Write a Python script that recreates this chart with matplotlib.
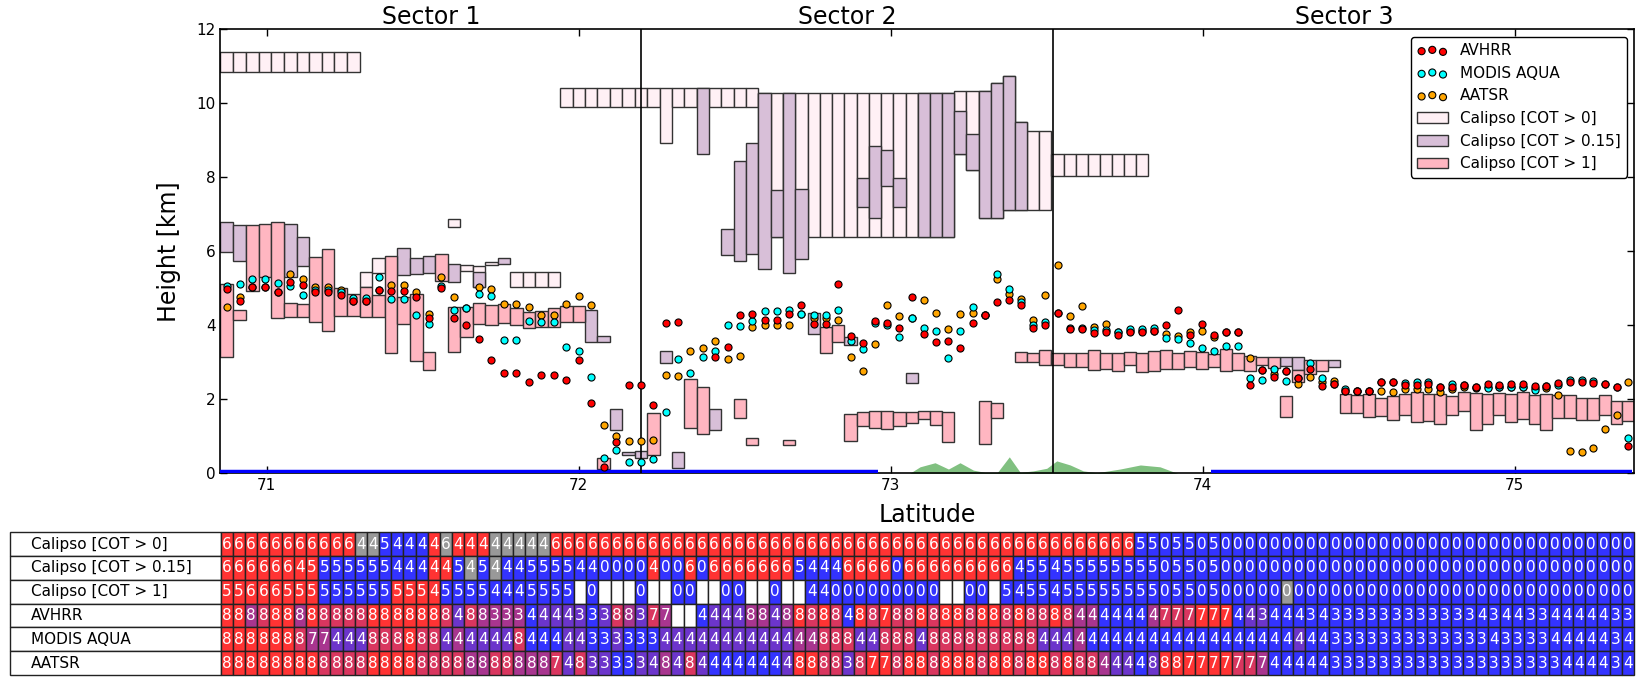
import numpy as np
import matplotlib
matplotlib.use("Agg")
import matplotlib.pyplot as plt
import matplotlib.transforms as mtransforms
from matplotlib.table import Table

nan = np.nan

# latitude of each Calipso column (one per table column)
lat = [70.8723, 70.9130, 70.9536, 70.9942, 71.0348, 71.0754, 71.1159, 71.1564, 71.1969, 71.2373,
       71.2777, 71.3181, 71.3585, 71.3988, 71.4391, 71.4794, 71.5196, 71.5598, 71.6000, 71.6402,
       71.6803, 71.7204, 71.7605, 71.8005, 71.8405, 71.8805, 71.9205, 71.9604, 72.0003, 72.0402,
       72.0800, 72.1199, 72.1597, 72.1994, 72.2392, 72.2789, 72.3185, 72.3582, 72.3978, 72.4374,
       72.4770, 72.5165, 72.5560, 72.5955, 72.6349, 72.6744, 72.7138, 72.7531, 72.7925, 72.8318,
       72.8711, 72.9103, 72.9496, 72.9887, 73.0279, 73.0671, 73.1062, 73.1453, 73.1843, 73.2233,
       73.2623, 73.3013, 73.3403, 73.3792, 73.4181, 73.4569, 73.4958, 73.5346, 73.5733, 73.6121,
       73.6508, 73.6895, 73.7281, 73.7668, 73.8054, 73.8440, 73.8825, 73.9210, 73.9595, 73.9980,
       74.0364, 74.0748, 74.1132, 74.1516, 74.1899, 74.2282, 74.2664, 74.3047, 74.3429, 74.3811,
       74.4192, 74.4573, 74.4954, 74.5335, 74.5715, 74.6095, 74.6475, 74.6855, 74.7234, 74.7613,
       74.7992, 74.8370, 74.8748, 74.9126, 74.9504, 74.9881, 75.0258, 75.0635, 75.1011, 75.1387,
       75.1763, 75.2139, 75.2514, 75.2889, 75.3264, 75.3638]

# cloud top heights [km] of the passive sensors
avhrr = [4.99, 4.67, 5.03, 5.03, 4.90, 5.18, 5.10, 4.91, 4.91, 4.82,
         4.66, 4.66, 4.95, 4.92, 4.92, 4.76, 4.19, 5.02, 4.19, 4.01,
         3.63, 3.08, 2.71, 2.71, 2.46, 2.66, 2.66, 2.52, 3.07, 1.90,
         0.18, 0.84, 2.39, 2.39, 1.85, 4.08, 4.09, nan, nan, 3.14,
         3.41, 4.28, 4.31, 4.14, 4.14, 4.31, 4.55, 4.03, 4.03, 5.11,
         3.72, 3.52, 4.12, 4.08, 3.92, 4.76, 3.77, 3.54, 3.58, 3.38,
         4.06, 4.28, 4.63, 4.68, 4.55, 3.93, 4.01, 4.35, 3.90, 3.90,
         3.80, 3.83, 3.74, 3.83, 3.83, 3.86, 4.01, 4.42, 3.74, 4.04,
         3.74, 3.83, 3.83, 2.39, 2.80, 2.60, 2.77, 2.59, 2.82, 2.36,
         2.42, 2.24, 2.24, 2.24, 2.47, 2.47, 2.39, 2.39, 2.42, 2.34,
         2.34, 2.39, 2.34, 2.41, 2.39, 2.41, 2.41, 2.36, 2.36, 2.45,
         2.47, 2.47, 2.44, 2.41, 2.35, 0.74]
modis = [5.08, 5.11, 5.25, 5.25, 5.14, 5.06, 4.82, 4.95, 4.95, 4.90,
         4.73, 4.73, 5.31, 4.71, 4.71, 4.28, 4.04, 5.08, 4.42, 4.46,
         4.84, 4.80, 3.61, 3.61, 4.12, 4.10, 4.10, 3.42, 3.31, 2.61,
         0.41, 0.64, 0.32, 0.32, 0.39, 1.65, 3.09, 2.71, 3.14, 3.31,
         4.01, 3.99, 4.12, 4.39, 4.39, 4.42, 4.31, 4.28, 4.28, 4.42,
         3.58, 3.36, 4.06, 4.01, 3.68, 4.19, 3.92, 3.85, 3.11, 3.85,
         4.49, 4.28, 5.39, 4.99, 4.64, 4.00, 4.10, 4.35, 3.93, 3.93,
         3.87, 3.87, 3.83, 3.90, 3.90, 3.92, 3.67, 3.64, 3.52, 3.38,
         3.31, 3.45, 3.45, 2.57, 2.53, 2.82, 2.50, 2.59, 2.98, 2.57,
         2.42, 2.28, 2.24, 2.24, 2.47, 2.47, 2.45, 2.46, 2.47, 2.34,
         2.41, 2.39, 2.34, 2.32, 2.35, 2.33, 2.35, 2.26, 2.36, 2.39,
         2.53, 2.53, 2.51, 2.41, 2.35, 0.95]
aatsr = [4.49, 4.78, 5.03, 5.03, 4.90, 5.39, 5.25, 5.03, 5.03, 4.96,
         4.66, 4.66, 4.95, 5.09, 5.09, 4.90, 4.31, 5.30, 4.78, 4.46,
         5.03, 4.99, 4.58, 4.58, 4.50, 4.28, 4.28, 4.58, 4.80, 4.55,
         1.31, 1.01, 0.88, 0.88, 0.90, 2.66, 2.64, 3.31, 3.38, 3.58,
         3.09, 3.17, 3.95, 4.01, 4.01, 4.01, 4.31, 4.19, 4.19, 4.15,
         3.14, 2.77, 3.49, 4.55, 4.26, 4.19, 4.69, 4.33, 3.90, 4.31,
         4.33, 4.28, 5.25, 4.84, 4.71, 4.15, 4.82, 5.63, 4.26, 4.53,
         3.95, 4.04, 3.83, 3.85, 3.85, 3.86, 3.76, 3.72, 3.83, 3.85,
         3.70, 3.83, 3.83, 3.11, 2.80, 2.70, 2.77, 2.42, 2.60, 2.48,
         2.50, 2.24, 2.24, 2.24, 2.23, 2.19, 2.27, 2.27, 2.27, 2.21,
         2.27, 2.33, 2.30, 2.35, 2.35, 2.35, 2.35, 2.30, 2.30, 2.12,
         0.61, 0.59, 0.68, 1.19, 1.58, 2.47]

# Calipso layers: (column, base, top) in km
cot0 = ([(c, 10.85, 11.38) for c in range(0, 11)] +
        [(11, 5.05, 5.44), (12, 5.41, 5.81), (18, 6.65, 6.88), (19, 5.47, 5.63),
         (20, 5.05, 5.62), (21, 5.63, 5.72), (23, 5.05, 5.44), (24, 5.05, 5.44),
         (25, 5.05, 5.44), (26, 5.05, 5.44)] +
        [(c, 9.90, 10.43) for c in range(27, 35)] + [(35, 8.92, 10.43)] +
        [(c, 9.90, 10.43) for c in range(36, 43)] +
        [(c, 6.38, 10.29) for c in range(43, 59)] +
        [(59, 8.63, 10.35), (60, 8.20, 10.35), (61, 6.90, 10.35), (62, 6.90, 10.54),
         (63, 7.11, 10.73), (64, 7.11, 9.51), (65, 7.11, 9.26), (66, 7.11, 9.26)] +
        [(c, 8.04, 8.63) for c in range(67, 75)])
cot015 = [(0, 5.98, 6.79), (1, 5.73, 6.71), (5, 5.30, 6.75), (6, 5.60, 6.38), (14, 5.37, 6.09),
          (15, 5.38, 5.81), (16, 5.41, 5.87), (18, 5.18, 5.65), (20, 5.05, 5.44), (22, 5.65, 5.81),
          (29, 3.54, 4.42), (30, 3.54, 3.72), (31, 1.18, 1.73), (32, 0.50, 0.57), (33, 0.43, 0.61),
          (35, 2.99, 3.31), (36, 0.14, 0.59), (38, 8.63, 10.43), (39, 1.18, 1.73), (40, 5.91, 6.62),
          (41, 5.73, 8.45), (42, 5.93, 8.92), (43, 5.52, 10.29), (44, 6.38, 7.66), (45, 5.41, 10.29),
          (46, 5.79, 7.69), (47, 3.77, 4.35), (50, 3.47, 3.68), (51, 7.21, 7.98), (52, 6.90, 8.86),
          (53, 7.78, 8.73), (54, 7.21, 7.98), (55, 2.44, 2.71), (56, 6.38, 10.29), (57, 6.38, 10.29),
          (58, 6.38, 10.29), (59, 8.63, 9.80), (60, 8.20, 9.18), (61, 6.90, 10.35), (62, 6.90, 10.54),
          (63, 7.11, 10.73), (64, 7.11, 9.51), (86, 2.90, 3.14), (87, 2.80, 3.14), (90, 2.87, 3.08)]
cot1 = [(0, 3.14, 5.11), (1, 4.15, 4.42), (2, 4.92, 6.71), (3, 5.32, 6.75), (4, 4.19, 6.79),
        (5, 4.22, 4.60), (6, 4.22, 4.57), (7, 4.09, 5.84), (8, 3.85, 6.06), (9, 4.26, 5.00),
        (10, 4.26, 4.84), (11, 4.22, 5.05), (12, 4.22, 4.82), (13, 3.25, 5.87), (14, 4.03, 4.78),
        (15, 3.04, 4.84), (16, 2.80, 3.29), (17, 5.20, 5.92), (18, 3.29, 4.51), (19, 3.68, 4.49),
        (20, 4.03, 4.60), (21, 4.01, 4.55), (22, 4.06, 4.57), (23, 4.01, 4.48), (24, 3.92, 4.37),
        (25, 3.97, 4.39), (26, 3.95, 4.46), (27, 4.09, 4.53), (28, 4.09, 4.53), (30, 0.12, 0.41),
        (34, 0.50, 1.63), (37, 1.22, 2.54), (38, 1.06, 2.34), (41, 1.49, 2.00), (42, 0.77, 0.95),
        (45, 0.77, 0.90), (48, 3.25, 3.97), (49, 3.56, 4.00), (50, 0.88, 1.60), (51, 1.28, 1.67),
        (52, 1.22, 1.70), (53, 1.19, 1.70), (54, 1.28, 1.67), (55, 1.36, 1.65), (56, 1.47, 1.69),
        (57, 1.31, 1.69), (58, 0.84, 1.65), (61, 0.79, 1.97), (62, 1.49, 1.90), (64, 3.00, 3.29),
        (65, 3.00, 3.26), (66, 2.93, 3.34), (67, 2.93, 3.26), (68, 2.87, 3.26), (69, 2.87, 3.26),
        (70, 2.80, 3.34), (71, 2.83, 3.26), (72, 2.76, 3.26), (73, 2.93, 3.29), (74, 2.73, 3.26),
        (75, 2.77, 3.31), (76, 2.82, 3.34), (77, 2.82, 3.25), (78, 2.87, 3.31), (79, 2.82, 3.28),
        (80, 2.87, 3.23), (81, 2.77, 3.36), (82, 2.80, 3.25), (83, 2.77, 3.17), (84, 2.93, 3.16),
        (85, 2.84, 3.14), (86, 1.53, 2.09), (87, 2.48, 2.80), (88, 2.68, 3.07), (89, 2.77, 3.08),
        (91, 1.63, 2.14), (92, 1.63, 2.12), (93, 1.53, 2.14), (94, 1.55, 2.03), (95, 1.45, 2.09),
        (96, 1.58, 2.15), (97, 1.38, 2.21), (98, 1.43, 2.15), (99, 1.35, 2.15), (100, 1.58, 2.10),
        (101, 1.69, 2.21), (102, 1.18, 2.17), (103, 1.33, 2.15), (104, 1.58, 2.17), (105, 1.38, 2.15),
        (106, 1.47, 2.21), (107, 1.33, 2.12), (108, 1.18, 2.14), (109, 1.49, 2.12), (110, 1.49, 2.12),
        (111, 1.45, 2.03), (112, 1.45, 2.03), (113, 1.58, 2.12), (114, 1.35, 1.97), (115, 1.42, 1.97)]

# surface: land elevation and open water stretches
land_lat = [73.06, 73.094, 73.142, 73.185, 73.222, 73.265, 73.302, 73.342, 73.38, 73.415,
            73.457, 73.50, 73.532, 73.575, 73.617, 73.66, 73.735, 73.80, 73.863, 73.92]
land_h = [0.0, 0.18, 0.29, 0.12, 0.29, 0.09, 0.03, 0.03, 0.45, 0.03,
          0.07, 0.14, 0.34, 0.23, 0.07, 0.02, 0.12, 0.23, 0.18, 0.0]
sea_segments = [(70.852, 72.958), (74.027, 75.375)]

sector_edges = [70.852, 72.2, 73.521, 75.383]
sector_names = ["Sector 1", "Sector 2", "Sector 3"]

# table: row labels, cell text, cell colour codes
row_names = ["Calipso [COT > 0]", "Calipso [COT > 0.15]", "Calipso [COT > 1]",
             "AVHRR", "MODIS AQUA", "AATSR"]
row_text = [
    "66666666666" + "44" + "5444" + "4" + "6" + "444" + "44444" + "6" * 48 + "5505505" + "0" * 34,
    "66666645" + "555555" + "444" + "44" + "5454" + "44" + "5555" + "44" + "0000" + "4" + "00" + "6" + "0"
    + "6666666" + "5444" + "6666" + "0" + "666666666" + "45545" + "5555555" + "05505" + "0" * 34,
    "55666555" + "555555" + "5554" + "5555" + "4" + "44" + "5555" + " 0   0  00  00  0 " + " 44"
    + "000000000" + "  00 " + "545545" + "5555555" + "05505" + "0" * 34,
    "8" * 19 + "4" + "88" + "333" + "4444" + "333" + "88" + "3" + "77" + "  " + "4444" + "88" + "4" + "8"
    + "8888" + "4" + "88" + "7" + "8" * 15 + "4" * 7 + "7" * 6 + "44" + "3" + "444" + "3" + "4" + "3" * 12
    + "4" + "3" + "44" + "33" + "44444" + "33",
    "8888888" + "77" + "444" + "888888" + "44444" + "48" + "44444" + "333333" + "4" * 11
    + "44888448884888888888444" + "4" * 21 + "3" * 13 + "4" + "3333" + "44444" + "3" + "4",
    "8" * 27 + "7" + "4" + "8" + "33333" + "4" + "8" + "4" + "8" + "4" * 8 + "8888" + "3" + "8" + "77"
    + "8" * 15 + "88" + "4444" + "888" + "7" * 7 + "44444" + "3" * 19 + "4444" + "3" + "4",
]
row_codes = [
    "r" * 11 + "gg" + "bbbb" + "r" + "g" + "rrr" + "ggggg" + "r" * 48 + "b" * 41,
    "r" * 8 + "b" * 9 + "rr" + "bgbg" + "b" * 12 + "r" + "bb" + "r" + "b" + "r" * 7 + "bbbb" + "rrrr" + "b"
    + "r" * 9 + "b" * 51,
    "r" * 8 + "b" * 6 + "rrrr" + "b" * 11 + "wbwwwbwwbbwwbbwwbw" + "wbb" + "b" * 9 + "wwbbw" + "b" * 6
    + "b" * 17 + "g" + "b" * 28,
    "rrpmrrprmmmmrrrrrrmqmpp" + "ppbqqqqbqmpqmpwwbqqqppqp" + "rmrmbrmrmmrmrrmrrmrmmrm"
    + "ppbbbbpmmmrrrbqqbbbbbbb" + "b" * 23,
    "rrrrrrmppqqqmmmrmmqpqqq" + "qmbbbqqbbqbbbqqqqqqqqqqq" + "ppmmmqqmmmqmmmmmmmmmqqq"
    + "p" + "b" * 17 + "q" + "b" * 27,
    "rrrrrrrrmmmmrrrrmmmmppm" + "mpppmqmqqbbqqpqmqbbbbbbq" + "rrmmqmrrmrrmrrrmrrmrrmr"
    + "mmpqqbqrrrrrrmmp" + "b" * 30,
]
palette = {"r": "#ff3333", "m": "#d9365f", "p": "#a8358f", "q": "#6c35cb",
           "b": "#3333ff", "g": "#999999", "w": "#ffffff"}

n_col = len(lat)
for t, c in zip(row_text, row_codes):
    assert len(t) == n_col and len(c) == n_col, (len(t), len(c))

lat = np.asarray(lat)
width = np.gradient(lat)

fig = plt.figure(figsize=(16.43, 6.85), dpi=100)
ax = fig.add_axes([0.1342, 0.3088, 0.8605, 0.6482])

edge = "#333333"
handles = []
for layer, colour in [(cot0, "#fff0f5"), (cot015, "#d8bfd8"), (cot1, "#ffb6c1")]:
    idx = np.array([l[0] for l in layer])
    base = np.array([l[1] for l in layer])
    top = np.array([l[2] for l in layer])
    b = ax.bar(lat[idx], top - base, bottom=base, width=width[idx], color=colour,
               edgecolor=edge, linewidth=1.0, zorder=2)
    handles.append(b)

ax.fill_between(land_lat, 0, land_h, color="#80c080", linewidth=0, zorder=2)
for s0, s1 in sea_segments:
    ax.plot([s0, s1], [0.045, 0.045], color="#0000ff", lw=3.2, solid_capstyle="butt", zorder=3)

for x in sector_edges[1:-1]:
    ax.axvline(x, color="black", lw=1.2, zorder=3)

sc_aa = ax.scatter(lat, aatsr, s=26, c="#ffa500", edgecolors="black", linewidths=0.8, zorder=4)
sc_mo = ax.scatter(lat, modis, s=26, c="#00ffff", edgecolors="black", linewidths=0.8, zorder=5)
sc_av = ax.scatter(lat, avhrr, s=26, c="#ff0000", edgecolors="black", linewidths=0.8, zorder=6)

ax.set_xlim(sector_edges[0], sector_edges[-1])
ax.set_ylim(0, 12)
ax.set_xticks([71, 72, 73, 74, 75])
ax.set_yticks(range(0, 13, 2))
ax.tick_params(direction="in", top=True, right=True, length=5, width=1, labelsize=11)
for sp in ax.spines.values():
    sp.set_linewidth(1.2)
ax.set_xlabel("Latitude", fontsize=17, labelpad=7)
ax.set_ylabel("Height [km]", fontsize=17, labelpad=11)

trans = mtransforms.blended_transform_factory(ax.transData, ax.transAxes)
for i, name in enumerate(sector_names):
    xc = 0.5 * (sector_edges[i] + sector_edges[i + 1])
    ax.text(xc, 1.0, name, transform=trans, ha="center", va="bottom", fontsize=17)

leg = ax.legend([sc_av, sc_mo, sc_aa] + handles,
                ["AVHRR", "MODIS AQUA", "AATSR", "Calipso [COT > 0]",
                 "Calipso [COT > 0.15]", "Calipso [COT > 1]"],
                loc="upper right", scatterpoints=3, scatteryoffsets=[0.375, 0.5, 0.3125],
                fontsize=11, fancybox=True, framealpha=1, edgecolor="black")
leg.get_frame().set_linewidth(1.0)

# summary table under the plot
tax = fig.add_axes([0.00627, 0.0146, 0.9882, 0.2083])
tax.set_axis_off()
tb = Table(tax, bbox=[0, 0, 1, 1])
lab_w = 210.4 / 1623.7
cell_w = (1 - lab_w) / n_col
for r, name in enumerate(row_names):
    tb.add_cell(r, 0, lab_w, 1.0 / 6, text=name, loc="left",
                facecolor="white", edgecolor="#222222")
    for c in range(n_col):
        cell = tb.add_cell(r, c + 1, cell_w, 1.0 / 6, text=row_text[r][c].strip(), loc="center",
                           facecolor=palette[row_codes[r][c]], edgecolor="#222222")
        cell.get_text().set_color("white")
tb.auto_set_font_size(False)
tb.set_fontsize(11)
tax.add_table(tb)

fig.savefig("out.png", dpi=100)
